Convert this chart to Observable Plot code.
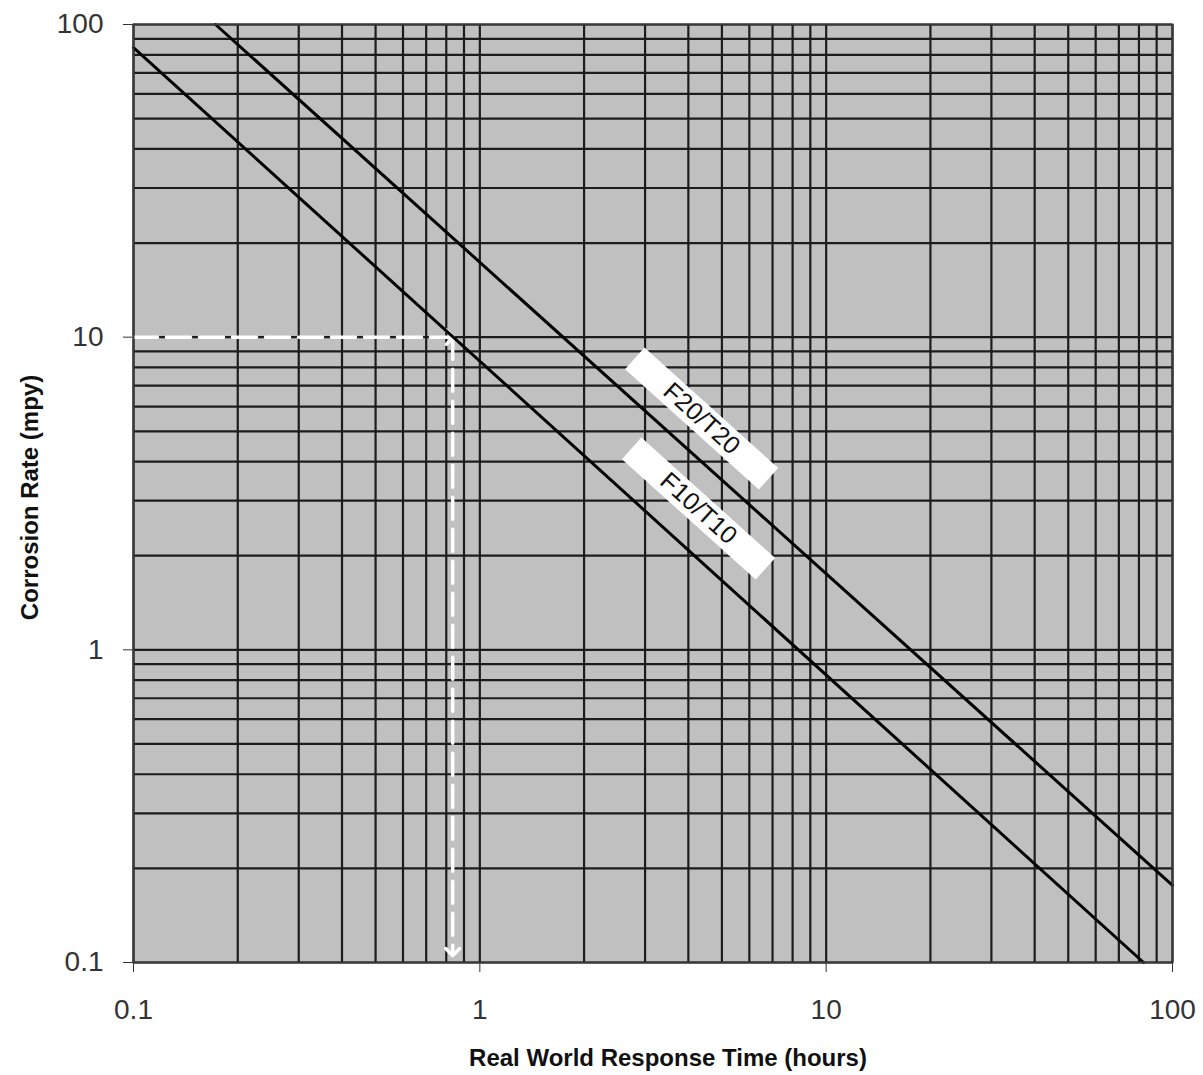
<!DOCTYPE html>
<html>
<head>
<meta charset="utf-8">
<script src="https://cdn.jsdelivr.net/npm/d3@7"></script>
<script src="https://cdn.jsdelivr.net/npm/@observablehq/plot@0.6"></script>
<style>
  html, body { margin: 0; padding: 0; background: #ffffff; }
  #chart { width: 1203px; height: 1075px; }
</style>
</head>
<body>
<div id="chart"></div>
<script>
// ---- data ----
const majorTicks = [0.1, 1, 10, 100];
const gridTicks = [0.1, 0.2, 0.3, 0.4, 0.5, 0.6, 0.7, 0.8, 0.9,
                   1, 2, 3, 4, 5, 6, 7, 8, 9,
                   10, 20, 30, 40, 50, 60, 70, 80, 90, 100];

// F10/T10 curve (two end points of the straight log-log line)
const f10X = [0.1, 82.5];
const f10Y = [84.4, 0.1];
// F20/T20 curve
const f20X = [0.1725, 100];
const f20Y = [100, 0.1765];

// white dashed guide: 10 mpy -> ~0.83 h
const guideHX = [0.1, 0.82];
const guideHY = [10, 10];
const guideVX = [0.835, 0.835];
const guideVY = [10, 0.108];

// curve labels
const labelText = ["F20/T20", "F10/T10"];
const labelX = [4.37, 4.28];
const labelY = [5.49, 2.83];

const xTitle = "Real World Response Time (hours)";
const yTitle = "Corrosion Rate (mpy)";

// ---- build tables ----
const f10 = f10X.map((x, i) => ({x, y: f10Y[i]}));
const f20 = f20X.map((x, i) => ({x, y: f20Y[i]}));
const guideH = guideHX.map((x, i) => ({x, y: guideHY[i]}));
const guideV = guideVX.map((x, i) => ({x, y: guideVY[i]}));
const labels = labelText.map((t, i) => ({text: t, x: labelX[i], y: labelY[i]}));

const boxSymbol = {
  draw(context, size) {
    const w = 180, h = 29;
    context.rect(-w / 2, -h / 2, w, h);
  }
};

const angle = 42;

const plot = Plot.plot({
  width: 1203,
  height: 1075,
  marginLeft: 133,
  marginRight: 31,
  marginTop: 24,
  marginBottom: 113,
  style: {fontFamily: "Arial, 'Liberation Sans', sans-serif", background: "#ffffff"},
  x: {type: "log", domain: [0.1, 100]},
  y: {type: "log", domain: [0.1, 100]},
  marks: [
    Plot.frame({fill: "#c0c0c0", stroke: null}),
    Plot.ruleX(gridTicks, {stroke: "#1c1c1c", strokeWidth: 2.2}),
    Plot.ruleY(gridTicks, {stroke: "#1c1c1c", strokeWidth: 2.2}),
    Plot.line(guideH, {x: "x", y: "y", stroke: "#ffffff", strokeWidth: 3.5, strokeDasharray: "24,9", markerEnd: "arrow"}),
    Plot.line(guideV, {x: "x", y: "y", stroke: "#ffffff", strokeWidth: 3.5, strokeDasharray: "22,10", markerEnd: "arrow"}),
    Plot.line(f10, {x: "x", y: "y", stroke: "#000000", strokeWidth: 3}),
    Plot.line(f20, {x: "x", y: "y", stroke: "#000000", strokeWidth: 3}),
    Plot.dot(labels, {x: "x", y: "y", symbol: boxSymbol, r: 10, rotate: angle, fill: "#ffffff", stroke: null}),
    Plot.text(labels, {x: "x", y: "y", text: "text", rotate: angle, fontSize: 25, fill: "#111111"}),
    Plot.frame({stroke: "#3a3a3a", strokeWidth: 2}),
    Plot.axisX({ticks: majorTicks, tickFormat: d => String(d), tickSize: 10, tickPadding: 27, fontSize: 28, color: "#333333", label: null}),
    Plot.axisY({ticks: majorTicks, tickFormat: d => String(d), tickSize: 10, tickPadding: 20, fontSize: 28, color: "#333333", label: null}),
    Plot.text([xTitle], {frameAnchor: "bottom", lineAnchor: "middle", textAnchor: "middle", text: d => d, dy: 96, dx: 15, fontSize: 24, fontWeight: "bold", fill: "#111111"}),
    Plot.text([yTitle], {frameAnchor: "left", lineAnchor: "middle", textAnchor: "middle", text: d => d, rotate: -90, dx: -103, dy: 4, fontSize: 24, fontWeight: "bold", fill: "#111111"})
  ]
});
document.getElementById("chart").appendChild(plot);
</script>
</body>
</html>
